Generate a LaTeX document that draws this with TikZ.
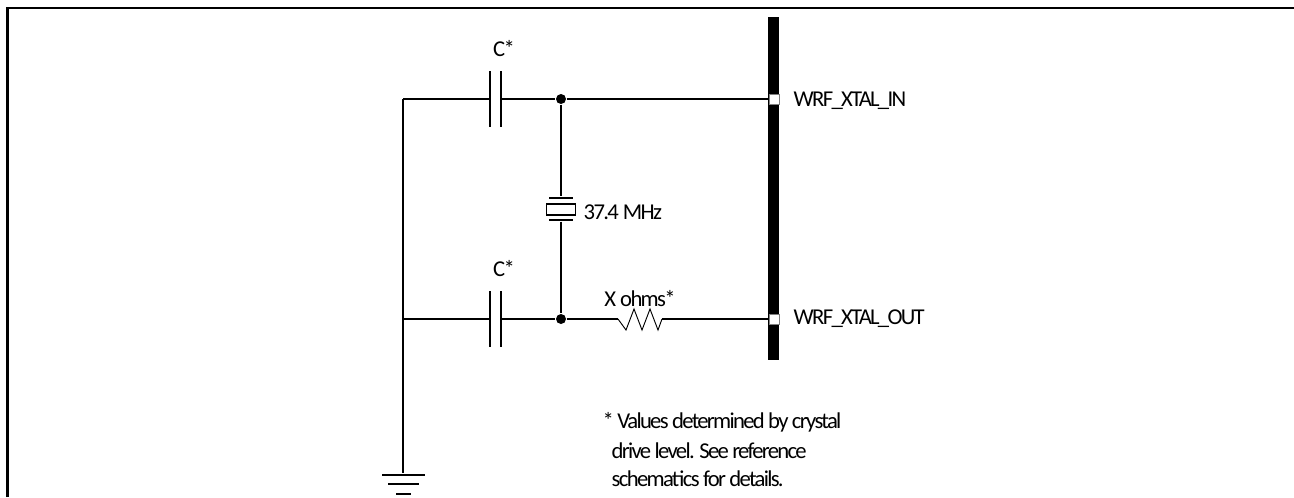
\documentclass[tikz,border=0pt]{standalone}
\usepackage{fontspec}
\setmainfont[LetterSpace=-7.5]{Carlito}
\begin{document}
\begin{tikzpicture}
  [x=.75pt,y=-.75pt,line width=1.1pt,
   every node/.style={font=\fontsize{17}{20}\selectfont},
   lab/.style={inner sep=0pt},
   bar/.style={fill=black,inner sep=0pt,minimum width=#1*.75pt,minimum height=1.3pt},
   vbar/.style={fill=black,inner sep=0pt,minimum height=#1*.75pt,minimum width=1.1pt},
   junc/.style={circle,fill=black,inner sep=0pt,minimum size=7.5pt},
   pin/.style={rectangle,draw=gray,fill=white,line width=.6pt,inner sep=0pt,minimum size=7.5pt}]
  \useasboundingbox (0,0) rectangle (1294,497);
  \draw[line width=1.6pt] (7.5,497) -- (7.5,8) -- (1294,8);
  \fill (768,17) rectangle (779,360);
  \coordinate (cnr) at (403,99);
  \coordinate (tee) at (403,319);
  \node[vbar=56] (c1a) at (490,99) {};
  \node[vbar=56] (c1b) at (501,99) {};
  \node[vbar=56] (c2a) at (490,319) {};
  \node[vbar=56] (c2b) at (501,319) {};
  \node[junc] (j1) at (561,99) {};
  \node[junc] (j2) at (561,319) {};
  \node[pin] (p1) at (774,99) {};
  \node[pin] (p2) at (774,319) {};
  \node[bar=24] (x1) at (561,198) {};
  \node[rectangle,draw,fill=white,inner sep=0pt,minimum width=22pt,minimum height=8.5pt] (xb) at (561,209.5) {};
  \node[bar=24] (x2) at (561,220) {};
  \coordinate (r1) at (618,319);
  \coordinate (r2) at (662,319);
  \node[bar=43] (g1) at (403,475) {};
  \node[bar=31] (g2) at (403,484) {};
  \node[bar=15] (g3) at (403,494) {};
  \foreach \from/\to in {cnr/c1a,c1b/j1,j1/p1,tee/c2a,c2b/j2,j2/r1,r2/p2,j1/x1,x2/j2,cnr/g1}
    \draw (\from) -- (\to);
  \draw[line width=.7pt] (r1) -- ++(8,11) -- ++(8,-21) -- ++(8,21) -- ++(8,-21) -- ++(8,21) -- (r2);
  \node[lab] (c1l) at (504,49) {C*};
  \node[lab] (c2l) at (504,269) {C*};
  \node[lab,anchor=west] (xl) at (583,212) {37.4\kern.18em MHz};
  \node[lab] (rl) at (640,299) {X\kern.18em ohms*};
  \node[lab,anchor=west] (p1l) at (793,101) {WRF\_XTAL\_IN};
  \node[lab,anchor=west] (p2l) at (793,319) {WRF\_XTAL\_OUT};
  \node[lab,anchor=west] (n1) at (602,422) {* Values determined by crystal};
  \node[lab,anchor=west] (n2) at (611,451) {drive level. See reference};
  \node[lab,anchor=west] (n3) at (611,479) {schematics for details.};
\end{tikzpicture}
\end{document}
